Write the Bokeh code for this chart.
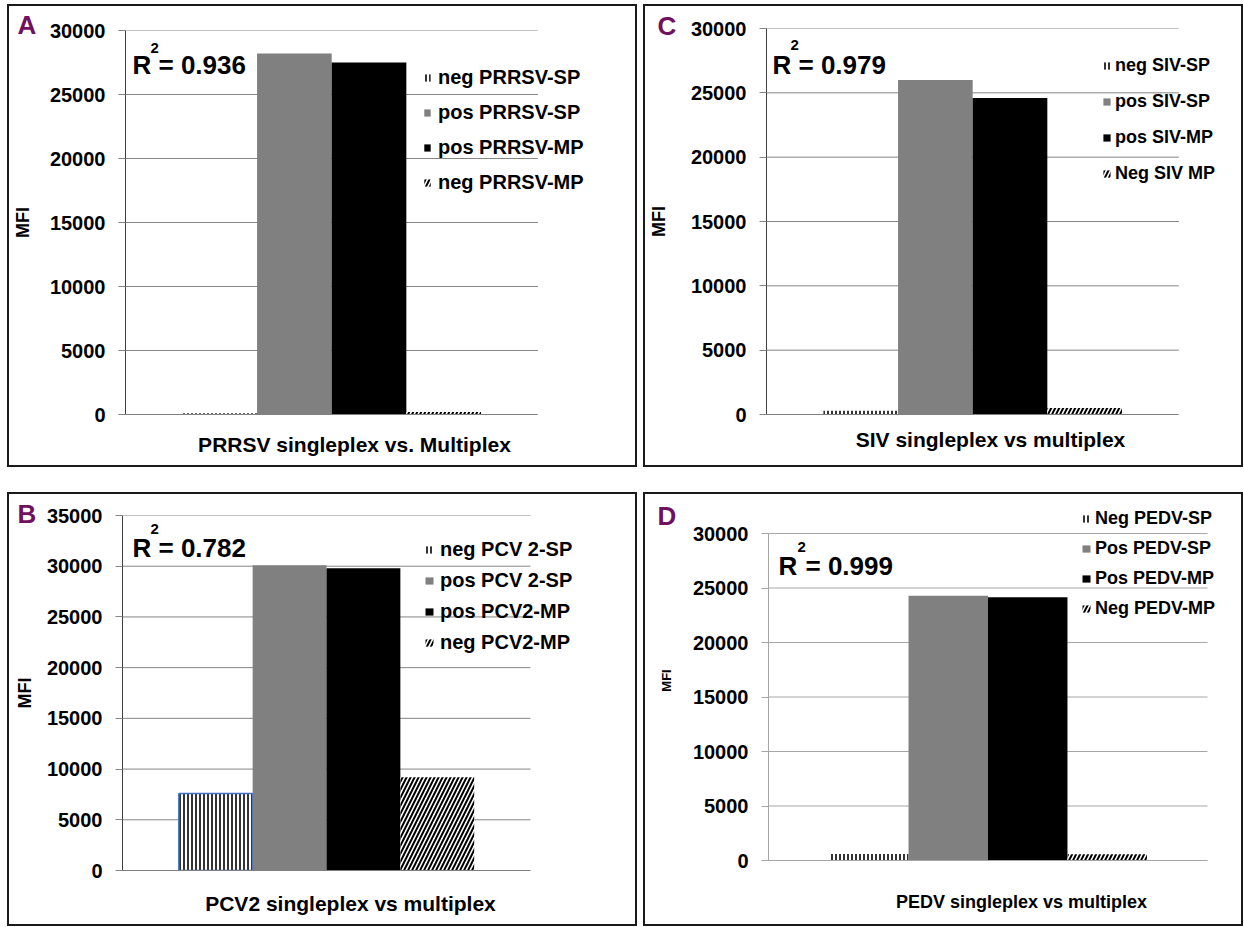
from bokeh.plotting import figure
from bokeh.models import (ColumnDataSource, Range1d, FixedTicker, Label,
                          Legend, LegendItem)
from bokeh.transform import dodge
from bokeh.layouts import row, column
from bokeh.embed import file_html
from bokeh.resources import INLINE

FONT = "Liberation Sans"
PURPLE = "#701060"

# ---------------- data ----------------
A_cats = ["PRRSV singleplex vs. Multiplex"]
A_series = ["neg PRRSV-SP", "pos PRRSV-SP", "pos PRRSV-MP", "neg PRRSV-MP"]
A_values = [100, 28200, 27500, 200]
A_r2 = "= 0.936"
A_ticks = [0, 5000, 10000, 15000, 20000, 25000, 30000]

B_cats = ["PCV2 singleplex vs multiplex"]
B_series = ["neg PCV 2-SP", "pos PCV 2-SP", "pos PCV2-MP", "neg PCV2-MP"]
B_values = [7600, 30100, 29800, 9200]
B_r2 = "= 0.782"
B_ticks = [0, 5000, 10000, 15000, 20000, 25000, 30000, 35000]

C_cats = ["SIV singleplex vs multiplex"]
C_series = ["neg SIV-SP", "pos SIV-SP", "pos SIV-MP", "Neg SIV MP"]
C_values = [300, 26000, 24600, 500]
C_r2 = "= 0.979"
C_ticks = [0, 5000, 10000, 15000, 20000, 25000, 30000]

D_cats = ["PEDV singleplex vs multiplex"]
D_series = ["Neg PEDV-SP", "Pos PEDV-SP", "Pos PEDV-MP", "Neg PEDV-MP"]
D_values = [600, 24300, 24150, 580]
D_r2 = "= 0.999"
D_ticks = [0, 5000, 10000, 15000, 20000, 25000, 30000]

OFFSETS = [-0.2715, -0.0905, 0.0905, 0.2715]
BAR_W = 0.181


def bar_styles():
    return [
        dict(fill_color="white", hatch_pattern="|", hatch_color="black",
             hatch_scale=4, hatch_weight=1.6, line_color=None),
        dict(fill_color="#808080", line_color=None),
        dict(fill_color="black", line_color=None),
        dict(fill_color="white", hatch_pattern="/", hatch_color="black",
             hatch_scale=8, hatch_weight=2.0, line_color=None),
    ]


def make_panel(letter, cats, series, values, r2, ticks, g):
    ox, oy = g["origin"]
    w, h = g["w"], g["h"]
    mbl, mbr, mbt, mbb = g["mb"]
    frame_w = w - mbl - mbr
    frame_h = h - mbt - mbb
    xmax = frame_w / g["cat_px"]
    ymax = ticks[-1] * frame_h / g["span_px"]
    p = figure(width=w, height=h,
               x_range=Range1d(0, xmax),
               y_range=Range1d(0, ymax),
               output_backend="svg", toolbar_location=None,
               min_border_left=mbl, min_border_right=mbr,
               min_border_top=mbt, min_border_bottom=mbb,
               frame_align=False,
               outline_line_color=None,
               background_fill_color="white", border_fill_color="white",
               styles={"outline": "2px solid #1a1a1a"})
    # grid lines only across the category span
    p.xgrid.visible = False
    p.ygrid.visible = False
    n = len(ticks)
    p.segment(x0=[0] * n, x1=[len(cats)] * n, y0=ticks, y1=ticks,
              line_color=g["grid"], line_width=1, level="underlay")

    p.yaxis.ticker = FixedTicker(ticks=ticks)
    p.yaxis.bounds = (0, ticks[-1])
    p.yaxis.axis_line_color = g["axis"]
    p.yaxis.major_tick_line_color = g["grid"]
    p.yaxis.major_tick_out = 7
    p.yaxis.major_tick_in = 0
    p.yaxis.minor_tick_line_color = None
    p.yaxis.major_label_standoff = 13
    p.yaxis.major_label_text_font = FONT
    p.yaxis.major_label_text_font_style = "bold"
    p.yaxis.major_label_text_font_size = "20px"
    p.yaxis.major_label_text_color = "black"
    p.yaxis.axis_label = "MFI"
    p.yaxis.axis_label_text_font = FONT
    p.yaxis.axis_label_text_font_style = "bold"
    p.yaxis.axis_label_text_font_size = g["mfi_size"]
    p.yaxis.axis_label_text_color = "black"
    p.yaxis.axis_label_standoff = g["mfi_standoff"]

    p.xaxis.ticker = FixedTicker(ticks=[])
    p.xaxis.bounds = (0, len(cats))
    p.xaxis.axis_line_color = g["base"]
    p.xaxis.major_tick_line_color = None
    p.xaxis.minor_tick_line_color = None
    p.xaxis.major_tick_out = 0
    p.xaxis.major_label_standoff = 0

    items = []
    centers = [i + 0.5 for i in range(len(cats))]
    for i, (s, v, st) in enumerate(zip(series, values, bar_styles())):
        src = ColumnDataSource(dict(x=centers, top=[v]))
        r = p.vbar(x=dodge("x", OFFSETS[i]), top="top",
                   width=BAR_W, bottom=0, source=src, **st)
        items.append(LegendItem(label=s, renderers=[r]))
        if i == 0 and g.get("negline"):
            # outline of the first bar (not part of the legend swatch)
            p.vbar(x=dodge("x", OFFSETS[i]), top="top", width=BAR_W, bottom=0,
                   source=src, fill_color=None, line_color=g["negline"],
                   line_width=1.5)

    leg = Legend(items=items, location=g["leg_loc"], orientation="vertical",
                 background_fill_alpha=0, border_line_color=None,
                 padding=0, margin=0, spacing=g["leg_sp"],
                 label_height=g["leg_lh"], glyph_width=g["gw"], glyph_height=9,
                 label_standoff=g["gs"], label_text_font=FONT,
                 label_text_font_style="bold",
                 label_text_font_size=g["leg_fs"], label_text_color="black")
    p.add_layout(leg)

    def lab(pos, text, size, color="black", align="left", place="center"):
        x, y = pos
        p.add_layout(Label(x=x - ox, y=y - oy, x_units="canvas", y_units="canvas",
                           text=text, text_font=FONT, text_font_style="bold",
                           text_font_size=size, text_color=color,
                           text_align=align, text_baseline="middle"), place)

    lab(g["r_pos"], "R", "26px")
    lab(g["sup_pos"], "2", "15px")
    lab(g["eq_pos"], r2, "26px")
    lab(g["let_pos"], letter, "26px", PURPLE, place="right")
    lab(g["xt_pos"], cats[0], g["xt_fs"], align="center", place="below")
    return p


gA = dict(origin=(9, 6), w=626, h=459, mb=(113, 35, 24, 51), cat_px=415, span_px=384,
          grid="#858585", axis="#404040", base="#808080",
          mfi_size="18px", mfi_standoff=14,
          leg_loc=(298, 220), leg_sp=11, leg_lh=24, gw=8, gs=7, leg_fs="20px",
          r_pos=(132, 64.5), sup_pos=(150, 47), eq_pos=(158, 64.5),
          let_pos=(17, 24), xt_pos=(354, 443.5), xt_fs="21px")
gB = dict(origin=(9, 494), w=626, h=430, mb=(113, 45, 21, 54), cat_px=408, span_px=355,
          grid="#858585", axis="#404040", base="#808080",
          mfi_size="18px", mfi_standoff=9, negline="#4472C4",
          leg_loc=(302, 216), leg_sp=7, leg_lh=24, gw=10, gs=6, leg_fs="20px",
          r_pos=(132, 547), sup_pos=(150, 528), eq_pos=(158, 547),
          let_pos=(17, 513.5), xt_pos=(350, 902.5), xt_fs="21px")
gC = dict(origin=(645, 6), w=596, h=459, mb=(117, 20, 22, 51), cat_px=416, span_px=386,
          grid="#858585", axis="#404040", base="#808080",
          mfi_size="18px", mfi_standoff=19,
          leg_loc=(336, 229), leg_sp=12, leg_lh=24, gw=9, gs=4, leg_fs="18px",
          r_pos=(772, 64), sup_pos=(790, 44), eq_pos=(798, 64),
          let_pos=(657, 25), xt_pos=(990, 439), xt_fs="21px")
gD = dict(origin=(645, 494), w=596, h=430, mb=(123, 22, 6, 64), cat_px=439, span_px=327,
          grid="#a6a6a6", axis="#a6a6a6", base="#a6a6a6",
          mfi_size="13px", mfi_standoff=16,
          leg_loc=(313, 241), leg_sp=8, leg_lh=22, gw=10, gs=4, leg_fs="18px",
          r_pos=(778, 565.5), sup_pos=(797, 546.7), eq_pos=(805, 565.5),
          let_pos=(657, 515), xt_pos=(1021, 901.5), xt_fs="18px")

pA = make_panel("A", A_cats, A_series, A_values, A_r2, A_ticks, gA)
pB = make_panel("B", B_cats, B_series, B_values, B_r2, B_ticks, gB)
pC = make_panel("C", C_cats, C_series, C_values, C_r2, C_ticks, gC)
pD = make_panel("D", D_cats, D_series, D_values, D_r2, D_ticks, gD)

layout = column(row(pA, pC, spacing=10), row(pB, pD, spacing=10),
                spacing=29, margin=(6, 0, 0, 9))

open("out.html", "w").write(file_html(layout, INLINE))
